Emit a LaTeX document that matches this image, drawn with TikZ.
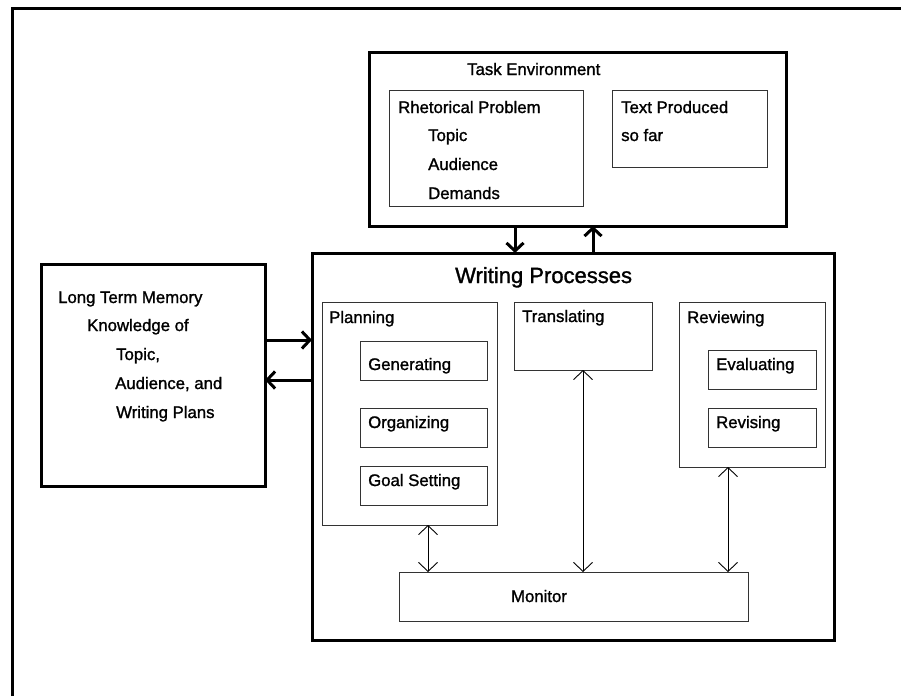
\documentclass[tikz,border=0pt]{standalone}
\usepackage{fontspec}
\setmainfont{Liberation Sans}
\newfontfamily\heavysans{Liberation Sans}[FakeBold=1.3]
\usetikzlibrary{arrows.meta}
\begin{document}
\begin{tikzpicture}[x=1pt,y=-1pt,
 thickbox/.style={draw=black, line width=3pt, inner sep=0pt, outer sep=0pt},
 thinbox/.style={draw=black!80, line width=1pt, inner sep=0pt, outer sep=0pt},
 txt/.style={inner sep=0pt, anchor=base west, font=\heavysans\fontsize{16.75}{20}\selectfont},
 bigtxt/.style={inner sep=0pt, anchor=base west, font=\heavysans\fontsize{22}{26}\selectfont},
 thickarrow/.style={line width=3pt, -{Straight Barb[length=8pt,width=17pt]}},
 thinarrow/.style={line width=0.9pt, {Straight Barb[length=9pt,width=19pt]}-{Straight Barb[length=9pt,width=19pt]}},
]
\useasboundingbox (0,0) rectangle (901,696);
\fill[white] (0,0) rectangle (901,696);
\draw[line width=3pt] (12,696) -- (12,8) -- (901,8);

% boxes
\node[thickbox, minimum width=417pt, minimum height=174pt] (te) at (577.5,139) {};
\node[thinbox, minimum width=194pt, minimum height=116pt] (rp) at (486,148) {};
\node[thinbox, minimum width=155pt, minimum height=77pt] (tp) at (689.5,128.5) {};
\node[thickbox, minimum width=522pt, minimum height=387pt] (wp) at (573,446.5) {};
\node[thickbox, minimum width=224pt, minimum height=222pt] (ltm) at (153,375) {};
\node[thinbox, minimum width=175pt, minimum height=223pt] (plan) at (409.5,413.5) {};
\node[thinbox, minimum width=138pt, minimum height=68pt] (trans) at (583,336) {};
\node[thinbox, minimum width=146pt, minimum height=165pt] (rev) at (752,384.5) {};
\node[thinbox, minimum width=127pt, minimum height=39pt] (gen) at (423.5,360.5) {};
\node[thinbox, minimum width=127pt, minimum height=39pt] (org) at (423.5,427.5) {};
\node[thinbox, minimum width=127pt, minimum height=39pt] (goal) at (423.5,485.5) {};
\node[thinbox, minimum width=108pt, minimum height=39pt] (eval) at (762,369.5) {};
\node[thinbox, minimum width=108pt, minimum height=39pt] (revs) at (762,427.5) {};
\node[thinbox, minimum width=349pt, minimum height=49pt] (mon) at (573.5,596.5) {};

% texts
\node[txt] (teT) at (467,75) {Task Environment};
\node[txt] (rpT) at (398,113) {Rhetorical Problem};
\node[txt] (rpA) at (428,141) {Topic};
\node[txt] (rpB) at (428,170) {Audience};
\node[txt] (rpC) at (428,199) {Demands};
\node[txt] (tpT) at (621,113) {Text Produced};
\node[txt] (tpA) at (621,141) {so far};
\node[bigtxt] (wpT) at (455,283) {Writing Processes};
\node[txt] (ltmT) at (58,303) {Long Term Memory};
\node[txt] (ltmA) at (87,331) {Knowledge of};
\node[txt] (ltmB) at (116,360) {Topic,};
\node[txt] (ltmC) at (115,389) {Audience, and};
\node[txt] (ltmD) at (116,418) {Writing Plans};
\node[txt] (planT) at (329,323) {Planning};
\node[txt] (genT) at (368,370) {Generating};
\node[txt] (orgT) at (368,428) {Organizing};
\node[txt] (goalT) at (368,486) {Goal Setting};
\node[txt] (transT) at (522,322) {Translating};
\node[txt] (revT) at (687,323) {Reviewing};
\node[txt] (evalT) at (716,370) {Evaluating};
\node[txt] (revsT) at (716,428) {Revising};
\node[txt, anchor=base] (monT) at (539,602) {Monitor};

% connectors
\draw[thickarrow] ([xshift=-62.5pt]te.south) -- ([xshift=-62.5pt]te.south |- wp.north);
\draw[thickarrow] ([xshift=15.5pt]te.south |- wp.north) -- ([xshift=15.5pt]te.south);
\draw[thickarrow] ([yshift=35pt]ltm.east) -- ([yshift=35pt]ltm.east -| wp.west);
\draw[thickarrow] ([yshift=-5pt]ltm.east -| wp.west) -- ([yshift=-5pt]ltm.east);
\draw[thinarrow] ([xshift=18.5pt]plan.south) -- ([xshift=18.5pt]plan.south |- mon.north);
\draw[thinarrow] (trans.south) -- (trans.south |- mon.north);
\draw[thinarrow] ([xshift=-24pt]rev.south) -- ([xshift=-24pt]rev.south |- mon.north);
\end{tikzpicture}
\end{document}
